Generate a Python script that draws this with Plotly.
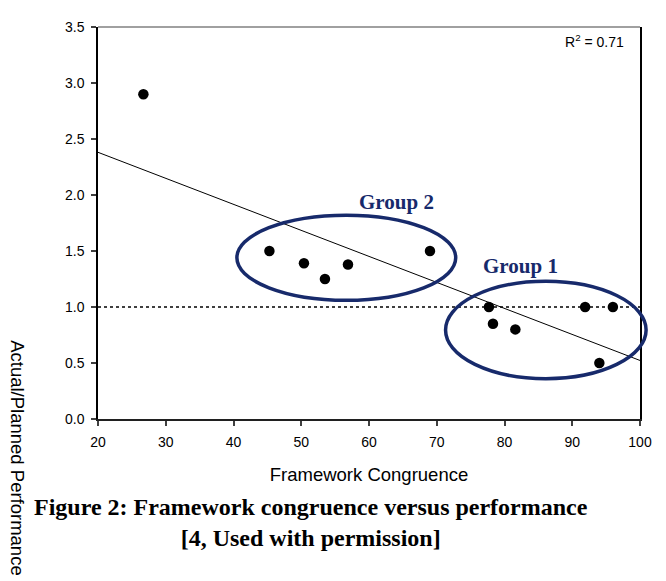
import numpy as np
import plotly.graph_objects as go

# Data
congruence = [26.7, 45.3, 50.4, 53.5, 56.9, 69.0, 77.7, 78.3, 81.6, 91.9, 96.0, 94.0]
performance = [2.90, 1.50, 1.39, 1.25, 1.38, 1.50, 1.00, 0.85, 0.80, 1.00, 1.00, 0.50]
x_ticks = [20, 30, 40, 50, 60, 70, 80, 90, 100]
y_ticks = [0.0, 0.5, 1.0, 1.5, 2.0, 2.5, 3.0, 3.5]
reference_level = 1.0
r_squared_label = "R<sup>2</sup> = 0.71"
group_labels = ["Group 2", "Group 1"]

X_RANGE = [20, 100]
Y_RANGE = [0, 3.5]

slope, intercept = np.polyfit(congruence, performance, 1)
trend_x = [X_RANGE[0], X_RANGE[1]]
trend_y = [intercept + slope * v for v in trend_x]

NAVY = "#172a6b"
SANS = "Liberation Sans, Arial, sans-serif"
SERIF = "Liberation Serif, Times New Roman, serif"

fig = go.Figure()

fig.add_trace(go.Scatter(
    x=trend_x, y=trend_y, mode="lines",
    line=dict(color="black", width=1), hoverinfo="skip", showlegend=False))

fig.add_trace(go.Scatter(
    x=trend_x, y=[reference_level, reference_level], mode="lines",
    line=dict(color="black", width=1.5, dash="dot"), hoverinfo="skip", showlegend=False))

fig.add_trace(go.Scatter(
    x=congruence, y=performance, mode="markers",
    marker=dict(color="black", size=10.5), showlegend=False, cliponaxis=False))


def dx(v):
    return (v - X_RANGE[0]) / (X_RANGE[1] - X_RANGE[0])


def dy(v):
    return (v - Y_RANGE[0]) / (Y_RANGE[1] - Y_RANGE[0])


# Group ellipses (in domain coords so they are not clipped)
ellipses = [(40.5, 72.8, 1.06, 1.82), (71.3, 100.9, 0.36, 1.23)]
for x0, x1, y0, y1 in ellipses:
    fig.add_shape(type="circle", xref="x domain", yref="y domain",
                  x0=dx(x0), x1=dx(x1), y0=dy(y0), y1=dy(y1),
                  line=dict(color=NAVY, width=3.5), layer="above")

# Top border in gray
fig.add_shape(type="line", xref="x domain", yref="y domain", x0=0, x1=1, y0=1, y1=1,
              line=dict(color="#808080", width=1.5))

annotations = [
    dict(text=f"<b>{group_labels[0]}</b>", x=dx(64.1), y=dy(1.94), xref="x domain", yref="y domain",
         showarrow=False, font=dict(family=SERIF, size=21, color=NAVY)),
    dict(text=f"<b>{group_labels[1]}</b>", x=dx(88.2), y=dy(1.365), xref="x domain", yref="y domain",
         showarrow=False, font=dict(family=SERIF, size=21, color=NAVY)),
    dict(text=r_squared_label, x=0.975, y=0.965, xref="x domain", yref="y domain",
         xanchor="right", yanchor="middle", showarrow=False,
         font=dict(family=SANS, size=14, color="black")),
    dict(text="Actual/Planned Performance", textangle=90, x=-0.1476, y=-0.1,
         xref="paper", yref="paper", xanchor="center", yanchor="middle", showarrow=False,
         font=dict(family=SANS, size=18.5, color="black")),
    dict(text="<b>Figure 2: Framework congruence versus performance</b><br><b>[4, Used with permission]</b>",
         x=0.393, y=-0.264, xref="paper", yref="paper", xanchor="center", yanchor="middle",
         showarrow=False, align="center",
         font=dict(family=SERIF, size=24, color="black")),
]

# The page body has an 8px margin, so the figure is drawn 8px in from the corner.
fig.update_layout(
    width=658, height=573,
    margin=dict(l=90, r=26, t=11, b=162),
    paper_bgcolor="white", plot_bgcolor="white",
    annotations=annotations,
    xaxis=dict(range=X_RANGE, tickvals=x_ticks, ticks="outside", ticklen=5, tickwidth=1.5,
               tickcolor="#404040", showline=True, linecolor="#202020", linewidth=1.5,
               showgrid=False, zeroline=False, ticklabelstandoff=4,
               tickfont=dict(family=SANS, size=14, color="black"),
               title=dict(text="Framework Congruence", standoff=20,
                          font=dict(family=SANS, size=18.5, color="black"))),
    yaxis=dict(range=Y_RANGE, tickvals=y_ticks, tickformat=".1f", ticks="outside", ticklen=5,
               tickwidth=1.5, tickcolor="#404040", showline=True, linecolor="black", linewidth=1.5,
               mirror=True, showgrid=False, zeroline=False, ticklabelstandoff=4,
               tickfont=dict(family=SANS, size=14, color="black")),
)

fig.write_html("out.html")
